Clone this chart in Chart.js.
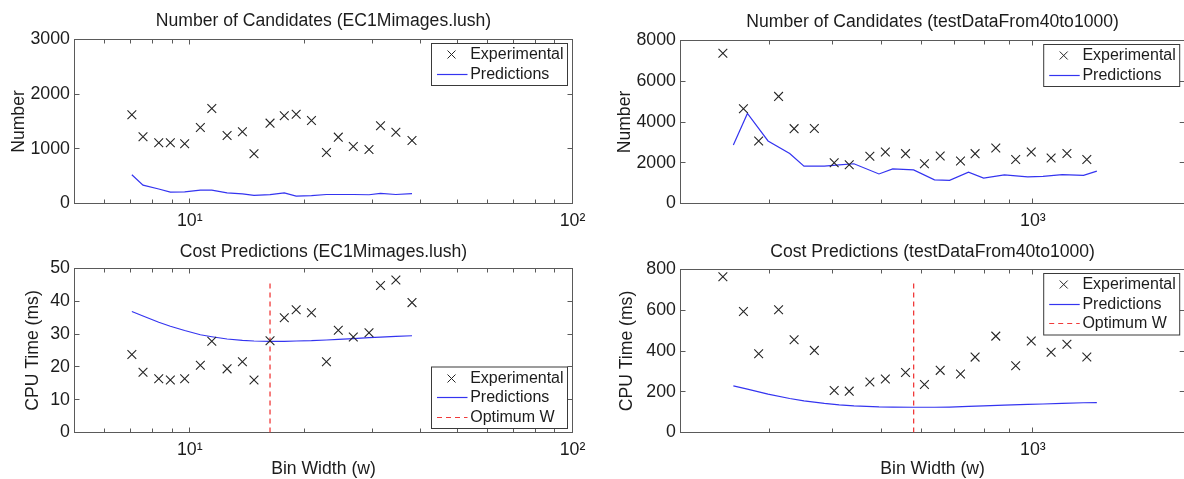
<!DOCTYPE html>
<html>
<head>
<meta charset="utf-8">
<title>Bin width study</title>
<script src="https://cdn.jsdelivr.net/npm/chart.js@4.4.1/dist/chart.umd.min.js"></script>
<style>
  html, body { margin: 0; padding: 0; background: #fff; overflow: hidden; }
  #wrap { position: relative; width: 1184px; height: 479px; overflow: hidden; }
  canvas { position: absolute; }
</style>
</head>
<body>
<div id="wrap">
  <canvas id="candLush"></canvas>
  <canvas id="candTest"></canvas>
  <canvas id="costLush"></canvas>
  <canvas id="costTest"></canvas>
</div>
<script>
/* =========================
    Data: EC1Mimages.lush
========================= */
const binWidthsLush = [7.06, 7.55, 8.30, 8.90, 9.70, 10.66, 11.42, 12.52, 13.73, 14.72, 16.21,
                       17.66, 18.97, 20.80, 22.76, 24.44, 26.75, 29.40, 31.51, 34.56, 38.08];
const candExpLush  = [1622, 1220, 1110, 1110, 1092, 1390, 1738, 1244, 1311, 909, 1470,
                      1604, 1634, 1518, 934, 1214, 1043, 988, 1421, 1305, 1153];
const candPredLush = [525, 335, 265, 207, 212, 243, 243, 195, 175, 150, 162,
                      195, 135, 145, 165, 165, 165, 160, 185, 165, 180];
const costExpLush  = [23.8, 18.4, 16.4, 16.0, 16.4, 20.5, 27.8, 19.4, 21.6, 16.0, 28.0,
                      35.0, 37.4, 36.5, 21.6, 31.2, 29.1, 30.4, 44.8, 46.5, 39.6];
const costPredLush = [36.9, 35.5, 33.6, 32.4, 31.1, 29.8, 29.2, 28.5, 28.1, 27.9, 27.8,
                      27.8, 27.9, 28.0, 28.2, 28.4, 28.6, 28.9, 29.1, 29.3, 29.5];
const optimumLush = 16.21;
const optimumTopLush = 46;

/* =========================
    Data: testDataFrom40to1000
========================= */
const binWidthsTest = [242.7, 266.6, 285.8, 313.0, 336, 368.5, 403.5, 432.2, 474.9, 509.7, 558.9,
                       609.3, 654.8, 718.4, 767.9, 844, 924.3, 992.4, 1086.6, 1168, 1279];
const predWidthsTest = [254.6, 271.5, 298.3, 329.3, 351.5, 385.8, 412.8, 441.6, 495.1, 527.1, 579.9,
                        637.9, 683.4, 745.1, 798.4, 877.8, 976.3, 1047, 1143, 1260, 1339];
const candExpTest  = [7378, 4654, 3067, 5257, 3674, 3680, 2000, 1905, 2316, 2530, 2447,
                      1954, 2332, 2086, 2447, 2724, 2156, 2528, 2234, 2449, 2156];
const candPredTest = [2870, 4420, 3070, 2450, 1830, 1830, 1900, 1950, 1450, 1700, 1650,
                      1160, 1140, 1540, 1250, 1400, 1310, 1330, 1420, 1380, 1590];
const costExpTest  = [764, 594, 387, 602, 455, 403, 206, 203, 248, 263, 294,
                      236, 305, 287, 370, 473, 328, 449, 394, 433, 371];
const costPredTest = [229, 213, 188, 167, 155, 143, 136, 131, 126, 125, 124,
                      124, 125, 128, 131, 134, 138, 140, 143, 146, 147];
const optimumTest = 580;
const optimumTopTest = 740;

/* =========================
    Ticks
========================= */
const xTicksLush = [5, 6, 7, 8, 9, 10, 20, 30, 40, 50, 60, 70, 80, 90, 100];
const xTicksTest = [200, 300, 400, 500, 600, 700, 800, 900, 1000, 2000];
const decadeLabels = { 10: '10¹', 100: '10²', 1000: '10³' };
const yTicksCandLush = [0, 1000, 2000, 3000];
const yTicksCandTest = [0, 2000, 4000, 6000, 8000];
const yTicksCostLush = [0, 10, 20, 30, 40, 50];
const yTicksCostTest = [0, 200, 400, 600, 800];

/* =========================
    Style
========================= */
const FONT_FAMILY = '"Liberation Sans", Arial, Helvetica, sans-serif';
const LABEL_FONT = '17.6px ' + FONT_FAMILY;
const LEGEND_FONT = '16px ' + FONT_FAMILY;
const TEXT = '#1c1c1c';
const AXIS = '#5a5a5a';
const MARK = '#262626';
const BLUE = '#3434f0';
const RED = '#f03a3a';
const Y_W = 60;   // fixed width of the y scale box
const X_H = 30;   // fixed height of the x scale box

Chart.defaults.font.family = FONT_FAMILY;

function pts(xs, ys) {
    return xs.map((x, i) => ({ x: x, y: ys[i] }));
}

function zeroPad(s) {
    s.paddingLeft = 0; s.paddingRight = 0; s.paddingTop = 0; s.paddingBottom = 0;
}

/* =========================
    MATLAB-like frame, ticks, labels and legend
========================= */
function matlabAxes(cfg) {
    return {
        id: 'matlabAxes',
        beforeDatasetsDraw(chart) {
            const { ctx, chartArea: a } = chart;
            const xs = chart.scales.x, ys = chart.scales.y;
            ctx.save();
            ctx.strokeStyle = AXIS;
            ctx.lineWidth = 1;
            ctx.strokeRect(a.left, a.top, a.right - a.left, a.bottom - a.top);
            ctx.beginPath();
            xs.ticks.forEach(t => {
                const px = Math.floor(xs.getPixelForValue(t.value)) + 0.5;
                const len = decadeLabels[t.value] ? 5 : 4;
                ctx.moveTo(px, a.bottom); ctx.lineTo(px, a.bottom - len);
                ctx.moveTo(px, a.top); ctx.lineTo(px, a.top + len);
            });
            ys.ticks.forEach(t => {
                const py = Math.floor(ys.getPixelForValue(t.value)) + 0.5;
                ctx.moveTo(a.left, py); ctx.lineTo(a.left + 5, py);
                ctx.moveTo(a.right, py); ctx.lineTo(a.right - 5, py);
            });
            ctx.stroke();
            ctx.restore();
        },
        afterDraw(chart) {
            const { ctx, chartArea: a } = chart;
            const cx = (a.left + a.right) / 2;
            ctx.save();
            ctx.fillStyle = TEXT;
            ctx.font = LABEL_FONT;
            ctx.textAlign = 'center';
            ctx.textBaseline = 'alphabetic';
            ctx.fillText(cfg.title, cx, a.top - cfg.titleGap);
            if (cfg.xlabel) ctx.fillText(cfg.xlabel, cx, a.bottom + cfg.xlabelGap);

            ctx.save();
            ctx.translate(a.left - cfg.ylabelGap, (a.top + a.bottom) / 2);
            ctx.rotate(-Math.PI / 2);
            ctx.textBaseline = 'middle';
            ctx.fillText(cfg.ylabel, 0, 0);
            ctx.restore();

            // legend box, inset from the upper or lower right corner
            const rows = cfg.legend.rows;
            const w = 136, h = 22.5 + 19.5 * (rows.length - 1);
            const x0 = a.right - 5 - w;
            const y0 = cfg.legend.corner === 'top' ? a.top + 4 : a.bottom - 4 - h;
            ctx.fillStyle = '#fff';
            ctx.fillRect(x0, y0, w, h);
            ctx.strokeStyle = '#3a3a3a';
            ctx.lineWidth = 1;
            ctx.strokeRect(x0, y0, w, h);
            ctx.font = LEGEND_FONT;
            ctx.textAlign = 'left';
            ctx.textBaseline = 'middle';
            rows.forEach((r, i) => {
                const ry = Math.floor(y0 + 11 + 19.5 * i) + 0.5;
                ctx.save();
                ctx.lineWidth = 1.2;
                ctx.beginPath();
                if (r === 'Experimental') {
                    ctx.strokeStyle = MARK;
                    ctx.lineWidth = 1;
                    ctx.moveTo(x0 + 16, ry - 4); ctx.lineTo(x0 + 24, ry + 4);
                    ctx.moveTo(x0 + 24, ry - 4); ctx.lineTo(x0 + 16, ry + 4);
                } else if (r === 'Predictions') {
                    ctx.strokeStyle = BLUE;
                    ctx.moveTo(x0 + 5.5, ry); ctx.lineTo(x0 + 36, ry);
                } else {
                    ctx.strokeStyle = RED;
                    ctx.setLineDash([5, 4]);
                    ctx.moveTo(x0 + 5.5, ry); ctx.lineTo(x0 + 36, ry);
                }
                ctx.stroke();
                ctx.restore();
                ctx.fillStyle = TEXT;
                ctx.fillText(r, x0 + 38.7, ry);
            });
            ctx.restore();
        }
    };
}

/* =========================
    Chart factory
========================= */
function makeChart(id, box, area, cfg) {
    const canvas = document.getElementById(id);
    canvas.width = box.w;
    canvas.height = box.h;
    canvas.style.left = box.x + 'px';
    canvas.style.top = box.y + 'px';

    const datasets = [
        {
            label: 'Experimental',
            data: pts(cfg.xs, cfg.exp),
            showLine: false,
            pointStyle: 'crossRot',
            pointRadius: 6.2,
            pointBorderWidth: 1.1,
            pointBorderColor: MARK,
            borderColor: MARK,
            backgroundColor: MARK
        },
        {
            label: 'Predictions',
            data: pts(cfg.predXs, cfg.pred),
            showLine: true,
            borderColor: BLUE,
            borderWidth: 1.2,
            pointRadius: 0,
            tension: 0
        }
    ];
    if (cfg.optimum) {
        datasets.push({
            label: 'Optimum W',
            data: [{ x: cfg.optimum, y: 0 }, { x: cfg.optimum, y: cfg.optimumTop }],
            showLine: true,
            borderColor: RED,
            borderWidth: 1.3,
            borderDash: [5, 4],
            pointRadius: 0
        });
    }

    const tickFont = { family: FONT_FAMILY, size: 17.8, lineHeight: 1.2 };

    return new Chart(canvas, {
        type: 'scatter',
        data: { datasets: datasets },
        options: {
            responsive: false,
            animation: false,
            events: [],
            layout: {
                padding: {
                    left: area.l - box.x - Y_W,
                    right: box.x + box.w - area.r,
                    top: area.t - box.y,
                    bottom: box.y + box.h - area.b - X_H
                }
            },
            plugins: { legend: { display: false }, tooltip: { enabled: false }, title: { display: false } },
            scales: {
                x: {
                    type: 'logarithmic',
                    min: cfg.xTicks[0],
                    max: cfg.xTicks[cfg.xTicks.length - 1],
                    grid: { display: false, drawTicks: false },
                    border: { display: false },
                    afterBuildTicks: s => { s.ticks = cfg.xTicks.map(v => ({ value: v })); },
                    afterFit: s => { s.height = X_H; zeroPad(s); },
                    ticks: {
                        autoSkip: false, maxRotation: 0, minRotation: 0, padding: 7,
                        color: TEXT, font: tickFont,
                        callback: v => decadeLabels[v] || ''
                    }
                },
                y: {
                    type: 'linear',
                    min: cfg.yTicks[0],
                    max: cfg.yTicks[cfg.yTicks.length - 1],
                    grid: { display: false, drawTicks: false },
                    border: { display: false },
                    afterBuildTicks: s => { s.ticks = cfg.yTicks.map(v => ({ value: v })); },
                    afterFit: s => { s.width = Y_W; zeroPad(s); },
                    ticks: {
                        autoSkip: false, padding: 4.5,
                        color: TEXT, font: tickFont,
                        callback: v => String(v)
                    }
                }
            }
        },
        plugins: [matlabAxes(cfg)]
    });
}

/* =========================
    Build the four panels
========================= */
makeChart('candLush',
    { x: 0, y: 0, w: 592, h: 240 },
    { l: 74.5, t: 39.5, r: 572.5, b: 203.5 },
    {
        xs: binWidthsLush, exp: candExpLush, predXs: binWidthsLush, pred: candPredLush,
        xTicks: xTicksLush, yTicks: yTicksCandLush,
        title: 'Number of Candidates (EC1Mimages.lush)', titleGap: 13.5,
        ylabel: 'Number', ylabelGap: 55.7,
        legend: { corner: 'top', rows: ['Experimental', 'Predictions'] }
    });

makeChart('candTest',
    { x: 592, y: 0, w: 600, h: 240 },
    { l: 680.5, t: 40.5, r: 1187.5, b: 203.5 },
    {
        xs: binWidthsTest, exp: candExpTest, predXs: predWidthsTest, pred: candPredTest,
        xTicks: xTicksTest, yTicks: yTicksCandTest,
        title: 'Number of Candidates (testDataFrom40to1000)', titleGap: 14,
        ylabel: 'Number', ylabelGap: 55,
        legend: { corner: 'top', rows: ['Experimental', 'Predictions'] }
    });

makeChart('costLush',
    { x: 0, y: 240, w: 592, h: 239 },
    { l: 74.5, t: 268.5, r: 572.5, b: 432.5 },
    {
        xs: binWidthsLush, exp: costExpLush, predXs: binWidthsLush, pred: costPredLush,
        optimum: optimumLush, optimumTop: optimumTopLush,
        xTicks: xTicksLush, yTicks: yTicksCostLush,
        title: 'Cost Predictions (EC1Mimages.lush)', titleGap: 12,
        xlabel: 'Bin Width (w)', xlabelGap: 41.5,
        ylabel: 'CPU Time (ms)', ylabelGap: 41.2,
        legend: { corner: 'bottom', rows: ['Experimental', 'Predictions', 'Optimum W'] }
    });

makeChart('costTest',
    { x: 592, y: 240, w: 600, h: 239 },
    { l: 680.5, t: 269.5, r: 1187.5, b: 432.5 },
    {
        xs: binWidthsTest, exp: costExpTest, predXs: predWidthsTest, pred: costPredTest,
        optimum: optimumTest, optimumTop: optimumTopTest,
        xTicks: xTicksTest, yTicks: yTicksCostTest,
        title: 'Cost Predictions (testDataFrom40to1000)', titleGap: 13,
        xlabel: 'Bin Width (w)', xlabelGap: 41.5,
        ylabel: 'CPU Time (ms)', ylabelGap: 53.2,
        legend: { corner: 'top', rows: ['Experimental', 'Predictions', 'Optimum W'] }
    });
</script>
</body>
</html>
